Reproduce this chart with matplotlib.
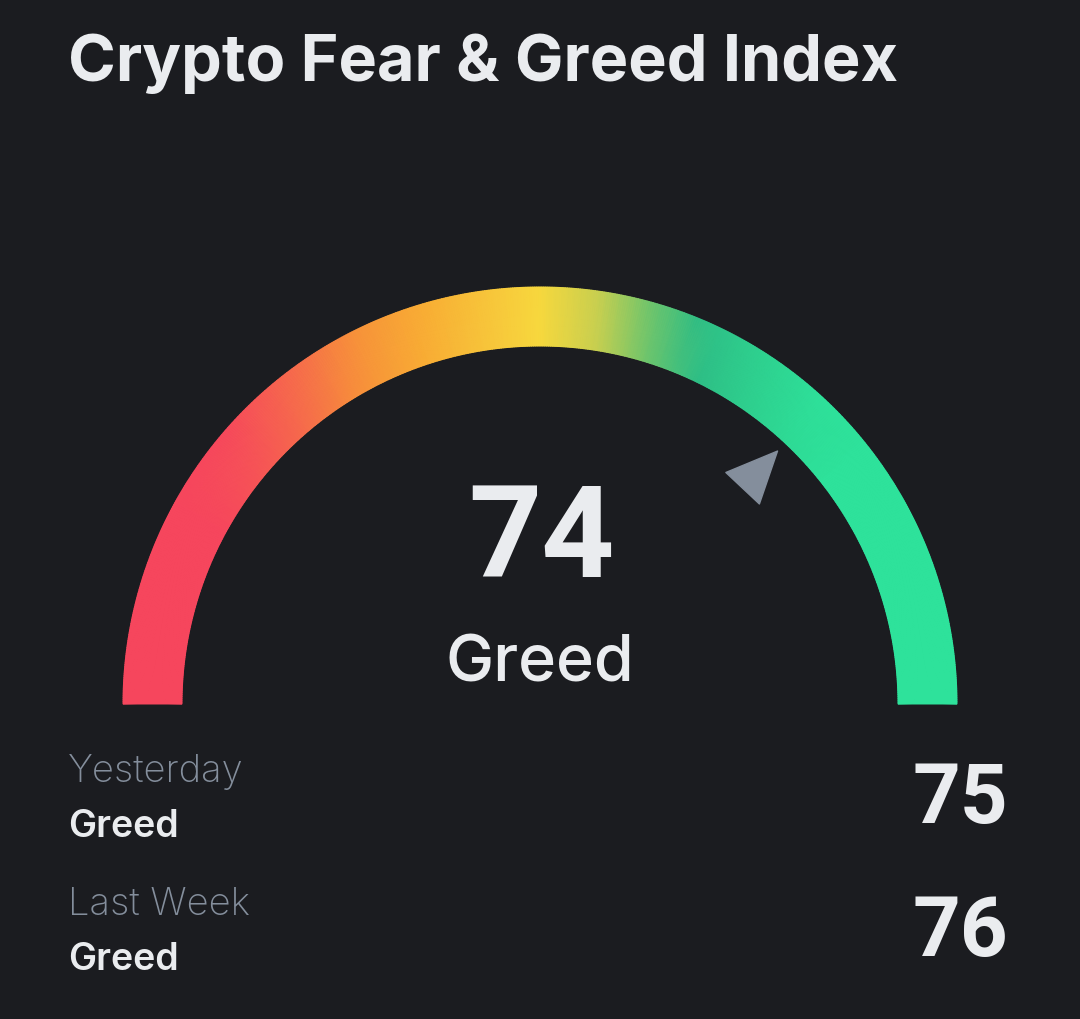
import numpy as np
import matplotlib
matplotlib.use("Agg")
import matplotlib.pyplot as plt
from matplotlib.colors import LinearSegmentedColormap
from matplotlib.patches import Polygon

# data
title = "Crypto Fear & Greed Index"
value_now = 74
label_now = "Greed"
history_labels = ["Yesterday", "Last Week"]
history_states = ["Greed", "Greed"]
history_values = [75, 76]

# gradient stops along x (0 = left end of gauge, 1 = right end)
stop_pos = [0.0, 0.12, 0.21, 0.28, 0.36, 0.43, 0.50, 0.57, 0.63, 0.69, 0.76, 0.84, 1.0]
stop_col = ["#f6465d", "#f6465d", "#f66b4c", "#f7923a", "#f8ad34", "#f7c33a", "#f7d83d",
            "#c8cf50", "#70c56c", "#2ebd85", "#2ed18f", "#2ee29b", "#2ee29b"]

BG = "#1b1c20"
WHITE = "#eaecef"
GREY = "#848e9c"
FONT = "Inter"
NUMFONT = "Roboto"

fig = plt.figure(figsize=(10.8, 10.2), dpi=100, facecolor=BG)
ax = fig.add_axes([0, 0, 1, 1])
ax.set_facecolor(BG)
ax.set_xlim(0, 1080)
ax.set_ylim(1020, 0)
ax.set_aspect("equal")
ax.axis("off")

cx, cy = 540, 705
r_out, r_in = 417, 358

cmap = LinearSegmentedColormap.from_list("fg", list(zip(stop_pos, stop_col)))
theta = np.linspace(np.pi, 0, 600)
rr = np.array([r_in, r_out])
T, R = np.meshgrid(theta, rr)
X = cx + R * np.cos(T)
Y = cy - R * np.sin(T)
C = (X - (cx - r_out)) / (2 * r_out)
ax.pcolormesh(X, Y, C, cmap=cmap, shading="gouraud", vmin=0, vmax=1, rasterized=True)

# pointer
ang = np.pi * (1 - value_now / 100)
u = np.array([np.cos(ang), -np.sin(ang)])
t = np.array([-np.sin(ang), -np.cos(ang)])
c0 = np.array([cx, cy])
tip = c0 + 347 * u
b1 = c0 + 296 * u + 23 * t
b2 = c0 + 296 * u - 23 * t
ax.add_patch(Polygon([tip, b1, b2], closed=True, facecolor=GREY, edgecolor=GREY,
                     linewidth=1, joinstyle="round"))

# texts
ax.text(68, 81, title, color=WHITE, fontsize=46.6, fontweight="bold", family=FONT,
        ha="left", va="baseline")
ax.text(541, 577, str(value_now), color=WHITE, fontsize=92, fontweight="bold",
        family=NUMFONT, ha="center", va="baseline")
ax.text(540, 682, label_now, color=WHITE, fontsize=46.5, fontweight="medium",
        family=FONT, ha="center", va="baseline")

rows_y = [782, 915]
for i in range(len(history_labels)):
    y0 = rows_y[i]
    ax.text(68, y0, history_labels[i], color=GREY, fontsize=27.5, fontweight="light",
            family=FONT, ha="left", va="baseline")
    ax.text(68, y0 + 55, history_states[i], color=WHITE, fontsize=27, fontweight="semibold",
            family=FONT, ha="left", va="baseline")
    ax.text(1008, y0 + 41, str(history_values[i]), color=WHITE, fontsize=60,
            fontweight="bold", family=NUMFONT, ha="right", va="baseline")

fig.savefig("out.png", dpi=100, facecolor=BG)
